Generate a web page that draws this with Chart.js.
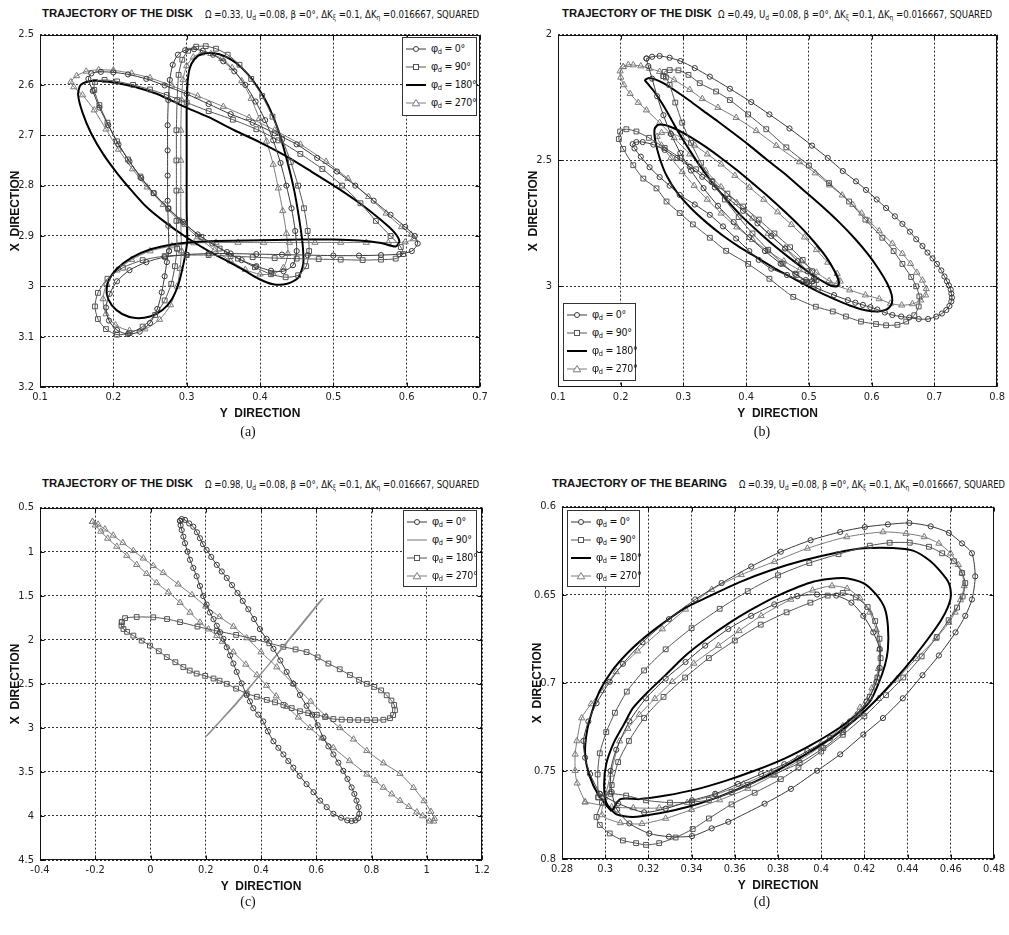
<!DOCTYPE html>
<html>
<head>
<meta charset="utf-8">
<script src="https://cdn.jsdelivr.net/npm/chart.js@4.4.1/dist/chart.umd.min.js"></script>
<style>
  body { margin:0; background:#fff; width:1009px; height:935px; position:relative; overflow:hidden; font-family:"Liberation Sans", Arial, sans-serif; color:#111; }
  canvas { position:absolute; }
  .ttl { position:absolute; white-space:nowrap; display:inline-block; transform-origin:0 50%; line-height:14px; }
  .ttl.main { font-weight:bold; font-size:11.5px; }
  .ttl.params { font-family:"Liberation Sans Narrow","DejaVu Sans Condensed",sans-serif; font-size:10.5px; }
  sub { font-size:70%; vertical-align:-2px; line-height:0; }
  .legend { position:absolute; border:1px solid #333; background:#fff; box-sizing:border-box; }
  .legend .row { position:absolute; left:3px; height:12px; white-space:nowrap; font-family:"Liberation Sans Narrow","DejaVu Sans Condensed",sans-serif; font-size:10.5px; letter-spacing:-0.3px; line-height:12px; color:#111; }
  .legend svg { position:absolute; left:0; top:1px; }
  .legend span { position:absolute; left:25px; top:-1px; }
  .legend .phi { position:static; font-family:"Liberation Sans", Arial, sans-serif; font-size:11px; }
  .caption { position:absolute; font-family:"Liberation Serif","Times New Roman",serif; font-size:14px; transform:translate(-50%,-50%); }
</style>
</head>
<body>
<script>
// tick labels
const ticksAx = [0.1, 0.2, 0.3, 0.4, 0.5, 0.6, 0.7];
const ticksAy = [2.5, 2.6, 2.7, 2.8, 2.9, 3, 3.1, 3.2];
const ticksBx = [0.1, 0.2, 0.3, 0.4, 0.5, 0.6, 0.7, 0.8];
const ticksBy = [2, 2.5, 3];
const ticksCx = [-0.4, -0.2, 0, 0.2, 0.4, 0.6, 0.8, 1, 1.2];
const ticksCy = [0.5, 1, 1.5, 2, 2.5, 3, 3.5, 4, 4.5];
const ticksDx = [0.28, 0.3, 0.32, 0.34, 0.36, 0.38, 0.4, 0.42, 0.44, 0.46, 0.48];
const ticksDy = [0.6, 0.65, 0.7, 0.75, 0.8];

const phaseLabels = ['0°', '90°', '180°', '270°'];
const omegaValues = ['0.33', '0.49', '0.98', '0.39'];

// (a) disk, Omega = 0.33   points are [Y direction, X direction]
const trajA_phi0 = [[0.276,2.93],[0.275,2.88],[0.274,2.83],[0.274,2.78],[0.274,2.73],[0.274,2.68],[0.275,2.63],[0.277,2.59],[0.281,2.56],[0.288,2.54],[0.298,2.531],[0.31,2.529],[0.322,2.532],[0.336,2.54],[0.35,2.553],[0.365,2.573],[0.38,2.6],[0.394,2.633],[0.407,2.67],[0.418,2.71],[0.428,2.755],[0.436,2.8],[0.443,2.845],[0.448,2.89],[0.45,2.93],[0.445,2.958],[0.432,2.97],[0.415,2.969],[0.395,2.96],[0.375,2.948],[0.355,2.932],[0.335,2.915],[0.315,2.897],[0.295,2.872],[0.275,2.845],[0.255,2.815],[0.238,2.785],[0.222,2.752],[0.207,2.718],[0.193,2.68],[0.181,2.645],[0.172,2.612],[0.166,2.588],[0.17,2.577],[0.183,2.574],[0.2,2.575],[0.22,2.579],[0.245,2.588],[0.27,2.601],[0.3,2.618],[0.33,2.638],[0.36,2.658],[0.39,2.675],[0.42,2.696],[0.45,2.718],[0.478,2.745],[0.505,2.772],[0.53,2.8],[0.555,2.83],[0.578,2.858],[0.598,2.882],[0.611,2.9],[0.615,2.915],[0.607,2.93],[0.59,2.936],[0.565,2.938],[0.535,2.939],[0.5,2.939],[0.465,2.938],[0.43,2.937],[0.395,2.936],[0.36,2.935],[0.33,2.935],[0.3,2.937],[0.27,2.942],[0.245,2.952],[0.222,2.968],[0.205,2.99],[0.195,3.015],[0.19,3.042],[0.194,3.068],[0.205,3.087],[0.22,3.095],[0.236,3.09],[0.25,3.073],[0.26,3.045],[0.266,3.012],[0.27,2.98],[0.273,2.952],[0.276,2.93]];
const trajA_phi90 = [[0.287,2.925],[0.286,2.87],[0.286,2.81],[0.286,2.75],[0.286,2.69],[0.287,2.63],[0.289,2.58],[0.294,2.55],[0.302,2.532],[0.313,2.524],[0.326,2.523],[0.34,2.528],[0.356,2.54],[0.372,2.56],[0.388,2.588],[0.403,2.622],[0.417,2.663],[0.43,2.707],[0.442,2.753],[0.452,2.8],[0.46,2.845],[0.465,2.89],[0.467,2.93],[0.463,2.96],[0.452,2.978],[0.435,2.982],[0.415,2.976],[0.393,2.962],[0.37,2.945],[0.345,2.925],[0.32,2.902],[0.297,2.876],[0.275,2.846],[0.255,2.815],[0.237,2.782],[0.22,2.748],[0.205,2.712],[0.192,2.675],[0.181,2.64],[0.174,2.61],[0.175,2.594],[0.188,2.59],[0.205,2.593],[0.227,2.6],[0.25,2.609],[0.273,2.62],[0.3,2.635],[0.33,2.652],[0.363,2.669],[0.395,2.688],[0.425,2.71],[0.455,2.737],[0.485,2.767],[0.512,2.8],[0.537,2.835],[0.558,2.87],[0.578,2.9],[0.592,2.922],[0.595,2.936],[0.585,2.945],[0.565,2.947],[0.54,2.948],[0.51,2.947],[0.48,2.946],[0.45,2.945],[0.42,2.944],[0.39,2.942],[0.36,2.94],[0.33,2.938],[0.3,2.938],[0.27,2.94],[0.24,2.948],[0.213,2.963],[0.192,2.985],[0.179,3.013],[0.175,3.04],[0.179,3.065],[0.19,3.085],[0.205,3.096],[0.222,3.093],[0.24,3.08],[0.257,3.057],[0.27,3.028],[0.279,2.995],[0.284,2.96],[0.287,2.925]];
const trajA_phi180 = [[0.301,2.91],[0.3,2.85],[0.3,2.78],[0.3,2.71],[0.3,2.65],[0.301,2.6],[0.304,2.568],[0.311,2.548],[0.322,2.538],[0.337,2.537],[0.352,2.543],[0.367,2.556],[0.383,2.578],[0.398,2.607],[0.412,2.643],[0.425,2.69],[0.436,2.745],[0.446,2.805],[0.453,2.862],[0.458,2.915],[0.459,2.955],[0.452,2.983],[0.437,2.995],[0.418,2.996],[0.398,2.985],[0.378,2.968],[0.357,2.951],[0.33,2.93],[0.3,2.903],[0.27,2.872],[0.245,2.842],[0.225,2.81],[0.205,2.775],[0.186,2.737],[0.17,2.697],[0.158,2.655],[0.152,2.62],[0.155,2.601],[0.166,2.593],[0.183,2.592],[0.205,2.596],[0.23,2.604],[0.26,2.618],[0.295,2.642],[0.33,2.664],[0.365,2.69],[0.4,2.714],[0.435,2.741],[0.47,2.772],[0.505,2.804],[0.537,2.836],[0.563,2.866],[0.582,2.891],[0.59,2.91],[0.585,2.921],[0.565,2.914],[0.535,2.909],[0.5,2.907],[0.46,2.907],[0.42,2.908],[0.38,2.909],[0.34,2.91],[0.31,2.912],[0.28,2.917],[0.25,2.927],[0.225,2.943],[0.205,2.965],[0.193,2.99],[0.191,3.015],[0.198,3.038],[0.212,3.055],[0.23,3.063],[0.25,3.06],[0.267,3.047],[0.28,3.025],[0.289,2.995],[0.295,2.96],[0.299,2.93],[0.301,2.91]];
const trajA_phi270 = [[0.293,2.93],[0.292,2.87],[0.292,2.81],[0.292,2.75],[0.292,2.69],[0.293,2.63],[0.295,2.59],[0.3,2.562],[0.309,2.545],[0.32,2.537],[0.333,2.538],[0.348,2.548],[0.362,2.566],[0.375,2.592],[0.388,2.627],[0.399,2.667],[0.409,2.712],[0.418,2.758],[0.425,2.805],[0.431,2.85],[0.436,2.895],[0.438,2.935],[0.432,2.963],[0.418,2.975],[0.4,2.976],[0.38,2.967],[0.36,2.95],[0.338,2.928],[0.315,2.902],[0.29,2.87],[0.268,2.838],[0.246,2.803],[0.226,2.767],[0.207,2.728],[0.19,2.688],[0.174,2.65],[0.158,2.62],[0.146,2.604],[0.142,2.594],[0.15,2.582],[0.163,2.573],[0.18,2.57],[0.2,2.571],[0.225,2.577],[0.25,2.586],[0.28,2.602],[0.315,2.622],[0.35,2.643],[0.385,2.665],[0.42,2.69],[0.455,2.718],[0.49,2.752],[0.52,2.786],[0.548,2.822],[0.572,2.855],[0.593,2.882],[0.606,2.897],[0.609,2.906],[0.598,2.912],[0.575,2.913],[0.545,2.913],[0.51,2.913],[0.475,2.913],[0.44,2.913],[0.405,2.913],[0.37,2.913],[0.34,2.913],[0.31,2.914],[0.28,2.92],[0.25,2.93],[0.225,2.947],[0.205,2.968],[0.191,2.995],[0.186,3.025],[0.19,3.055],[0.203,3.077],[0.222,3.088],[0.243,3.085],[0.263,3.066],[0.278,3.037],[0.287,3.0],[0.291,2.965],[0.293,2.93]];

// (b) disk, Omega = 0.49
const trajB_phi0 = [[0.241,2.095],[0.25,2.088],[0.262,2.085],[0.278,2.092],[0.295,2.105],[0.318,2.133],[0.342,2.167],[0.374,2.215],[0.408,2.268],[0.437,2.317],[0.469,2.373],[0.505,2.441],[0.53,2.49],[0.554,2.542],[0.575,2.583],[0.591,2.617],[0.608,2.655],[0.623,2.689],[0.637,2.722],[0.649,2.752],[0.661,2.783],[0.671,2.813],[0.681,2.84],[0.689,2.866],[0.697,2.889],[0.704,2.911],[0.711,2.937],[0.716,2.961],[0.72,2.98],[0.723,2.996],[0.726,3.013],[0.727,3.029],[0.728,3.045],[0.727,3.06],[0.724,3.078],[0.719,3.094],[0.712,3.108],[0.703,3.12],[0.69,3.13],[0.675,3.13],[0.66,3.124],[0.647,3.12],[0.633,3.114],[0.621,3.104],[0.609,3.092],[0.598,3.083],[0.586,3.074],[0.574,3.065],[0.562,3.055],[0.54,3.035],[0.515,3.01],[0.49,2.983],[0.465,2.955],[0.44,2.93],[0.42,2.895],[0.405,2.86],[0.384,2.81],[0.363,2.762],[0.342,2.716],[0.318,2.675],[0.294,2.637],[0.278,2.6],[0.262,2.566],[0.246,2.527],[0.232,2.485],[0.222,2.452],[0.219,2.435],[0.225,2.427],[0.235,2.427],[0.252,2.437],[0.27,2.458],[0.29,2.49],[0.31,2.525],[0.33,2.565],[0.35,2.607],[0.372,2.652],[0.395,2.7],[0.418,2.75],[0.44,2.8],[0.462,2.85],[0.482,2.9],[0.498,2.94],[0.508,2.968],[0.505,2.98],[0.495,2.975],[0.478,2.95],[0.455,2.91],[0.43,2.86],[0.405,2.805],[0.38,2.745],[0.355,2.68],[0.332,2.61],[0.312,2.54],[0.295,2.47],[0.28,2.395],[0.268,2.32],[0.258,2.245],[0.25,2.175],[0.244,2.125],[0.241,2.095]];
const trajB_phi90 = [[0.268,2.165],[0.27,2.148],[0.278,2.141],[0.292,2.142],[0.308,2.16],[0.326,2.193],[0.352,2.226],[0.374,2.26],[0.403,2.317],[0.432,2.376],[0.464,2.448],[0.5,2.52],[0.532,2.59],[0.564,2.663],[0.59,2.735],[0.617,2.807],[0.635,2.86],[0.649,2.911],[0.663,2.963],[0.671,3.0],[0.676,3.04],[0.675,3.08],[0.668,3.115],[0.655,3.14],[0.641,3.153],[0.623,3.155],[0.607,3.15],[0.583,3.14],[0.559,3.12],[0.538,3.1],[0.511,3.081],[0.475,3.042],[0.437,2.97],[0.403,2.911],[0.368,2.859],[0.342,2.807],[0.315,2.754],[0.294,2.709],[0.273,2.663],[0.257,2.611],[0.236,2.572],[0.22,2.519],[0.204,2.454],[0.197,2.415],[0.199,2.385],[0.209,2.376],[0.225,2.385],[0.245,2.41],[0.27,2.45],[0.295,2.49],[0.32,2.535],[0.345,2.582],[0.37,2.632],[0.395,2.683],[0.42,2.735],[0.445,2.79],[0.47,2.845],[0.49,2.895],[0.505,2.94],[0.512,2.975],[0.508,2.99],[0.497,2.982],[0.48,2.955],[0.458,2.91],[0.435,2.855],[0.41,2.79],[0.388,2.725],[0.366,2.655],[0.346,2.585],[0.328,2.51],[0.312,2.43],[0.298,2.35],[0.287,2.27],[0.278,2.2],[0.272,2.17],[0.268,2.165]];
const trajB_phi180 = [[0.238,2.18],[0.245,2.172],[0.255,2.178],[0.27,2.196],[0.29,2.228],[0.31,2.263],[0.33,2.3],[0.355,2.345],[0.38,2.392],[0.405,2.44],[0.432,2.495],[0.46,2.55],[0.49,2.615],[0.52,2.68],[0.548,2.745],[0.573,2.81],[0.595,2.875],[0.612,2.935],[0.625,2.99],[0.632,3.035],[0.632,3.07],[0.624,3.092],[0.61,3.1],[0.59,3.095],[0.565,3.076],[0.538,3.048],[0.51,3.015],[0.48,2.975],[0.45,2.935],[0.42,2.89],[0.39,2.845],[0.362,2.797],[0.336,2.745],[0.312,2.69],[0.29,2.628],[0.273,2.56],[0.262,2.49],[0.255,2.42],[0.254,2.375],[0.26,2.358],[0.272,2.36],[0.29,2.378],[0.312,2.408],[0.335,2.445],[0.36,2.49],[0.385,2.538],[0.41,2.59],[0.435,2.643],[0.46,2.7],[0.485,2.76],[0.507,2.82],[0.527,2.882],[0.541,2.94],[0.548,2.985],[0.545,3.0],[0.533,2.995],[0.515,2.97],[0.492,2.93],[0.468,2.885],[0.443,2.835],[0.418,2.78],[0.393,2.722],[0.37,2.66],[0.348,2.595],[0.328,2.528],[0.31,2.46],[0.293,2.392],[0.278,2.325],[0.265,2.27],[0.252,2.222],[0.243,2.195],[0.238,2.18]];
const trajB_phi270 = [[0.204,2.128],[0.212,2.12],[0.22,2.121],[0.232,2.125],[0.246,2.135],[0.262,2.147],[0.285,2.18],[0.31,2.219],[0.33,2.255],[0.355,2.29],[0.384,2.33],[0.416,2.382],[0.448,2.441],[0.485,2.506],[0.51,2.55],[0.533,2.598],[0.553,2.638],[0.57,2.676],[0.584,2.71],[0.596,2.741],[0.612,2.78],[0.633,2.83],[0.649,2.87],[0.662,2.91],[0.672,2.945],[0.681,2.976],[0.687,3.01],[0.686,3.035],[0.678,3.055],[0.665,3.07],[0.648,3.075],[0.63,3.068],[0.612,3.05],[0.59,3.035],[0.565,3.015],[0.535,2.99],[0.51,2.965],[0.485,2.935],[0.46,2.9],[0.435,2.86],[0.41,2.815],[0.385,2.765],[0.36,2.71],[0.338,2.655],[0.317,2.6],[0.298,2.545],[0.28,2.49],[0.265,2.44],[0.258,2.405],[0.265,2.39],[0.28,2.392],[0.298,2.41],[0.318,2.44],[0.338,2.475],[0.36,2.515],[0.382,2.56],[0.405,2.607],[0.428,2.655],[0.45,2.705],[0.472,2.755],[0.493,2.805],[0.512,2.855],[0.53,2.905],[0.545,2.95],[0.55,2.98],[0.545,2.99],[0.532,2.978],[0.512,2.945],[0.488,2.9],[0.462,2.848],[0.435,2.79],[0.41,2.73],[0.385,2.668],[0.36,2.605],[0.335,2.54],[0.31,2.475],[0.285,2.41],[0.262,2.35],[0.241,2.3],[0.228,2.27],[0.215,2.235],[0.205,2.2],[0.2,2.17],[0.199,2.145],[0.204,2.128]];

// (c) disk, Omega = 0.98
const trajC_phi0 = [[0.107,0.65],[0.113,0.63],[0.125,0.64],[0.14,0.68],[0.155,0.717],[0.168,0.78],[0.179,0.848],[0.19,0.915],[0.203,0.98],[0.22,1.06],[0.24,1.15],[0.258,1.225],[0.276,1.298],[0.295,1.38],[0.315,1.47],[0.334,1.56],[0.354,1.654],[0.375,1.765],[0.396,1.879],[0.42,1.99],[0.445,2.103],[0.47,2.235],[0.493,2.365],[0.517,2.5],[0.541,2.627],[0.565,2.75],[0.585,2.85],[0.605,2.97],[0.626,3.115],[0.644,3.21],[0.662,3.302],[0.68,3.395],[0.698,3.489],[0.713,3.58],[0.728,3.677],[0.738,3.75],[0.746,3.826],[0.753,3.9],[0.756,3.976],[0.752,4.025],[0.742,4.05],[0.728,4.058],[0.712,4.05],[0.69,4.02],[0.662,3.976],[0.638,3.9],[0.614,3.826],[0.59,3.73],[0.565,3.639],[0.54,3.545],[0.517,3.452],[0.499,3.377],[0.481,3.302],[0.463,3.227],[0.445,3.152],[0.425,3.04],[0.408,2.927],[0.39,2.85],[0.372,2.777],[0.36,2.7],[0.348,2.627],[0.33,2.495],[0.312,2.365],[0.3,2.27],[0.288,2.178],[0.276,2.085],[0.264,1.99],[0.252,1.915],[0.24,1.841],[0.228,1.766],[0.215,1.691],[0.203,1.6],[0.191,1.504],[0.179,1.39],[0.167,1.279],[0.155,1.185],[0.143,1.092],[0.134,1.0],[0.125,0.904],[0.119,0.83],[0.113,0.755],[0.109,0.7],[0.107,0.65]];
const trajC_phi90 = [[0.2,3.1],[0.25,2.93],[0.3,2.755],[0.35,2.57],[0.4,2.385],[0.45,2.2],[0.5,2.01],[0.55,1.82],[0.6,1.625],[0.625,1.53],[0.615,1.56],[0.56,1.77],[0.51,1.96],[0.46,2.155],[0.41,2.35],[0.36,2.54],[0.31,2.73],[0.26,2.9],[0.21,3.07],[0.2,3.1]];
const trajC_phi180 = [[-0.104,1.8],[-0.092,1.755],[-0.05,1.742],[0.01,1.745],[0.06,1.765],[0.107,1.8],[0.17,1.85],[0.24,1.9],[0.31,1.945],[0.372,1.99],[0.43,2.04],[0.481,2.08],[0.525,2.11],[0.565,2.14],[0.605,2.2],[0.644,2.27],[0.685,2.335],[0.722,2.4],[0.755,2.455],[0.783,2.5],[0.81,2.535],[0.835,2.575],[0.855,2.63],[0.872,2.69],[0.882,2.74],[0.885,2.8],[0.878,2.855],[0.867,2.89],[0.843,2.908],[0.813,2.912],[0.783,2.912],[0.752,2.911],[0.722,2.91],[0.692,2.906],[0.662,2.9],[0.632,2.877],[0.602,2.852],[0.571,2.833],[0.541,2.812],[0.511,2.776],[0.481,2.74],[0.451,2.71],[0.421,2.683],[0.385,2.647],[0.348,2.61],[0.31,2.555],[0.276,2.5],[0.25,2.465],[0.228,2.44],[0.198,2.41],[0.167,2.384],[0.142,2.35],[0.119,2.31],[0.09,2.255],[0.059,2.197],[0.03,2.13],[-0.002,2.066],[-0.032,2.01],[-0.062,1.953],[-0.085,1.91],[-0.098,1.878],[-0.105,1.84],[-0.104,1.8]];
const trajC_phi270 = [[-0.21,0.66],[-0.19,0.69],[-0.165,0.745],[-0.135,0.815],[-0.1,0.9],[-0.062,0.99],[-0.026,1.075],[0.01,1.16],[0.046,1.24],[0.1,1.37],[0.15,1.49],[0.2,1.62],[0.25,1.74],[0.3,1.85],[0.348,1.98],[0.4,2.14],[0.457,2.31],[0.517,2.5],[0.58,2.7],[0.636,2.87],[0.686,3.0],[0.735,3.13],[0.783,3.26],[0.843,3.4],[0.903,3.52],[0.952,3.68],[0.99,3.83],[1.015,3.95],[1.028,4.03],[1.025,4.06],[1.01,4.06],[0.985,4.0],[0.964,3.957],[0.935,3.895],[0.903,3.826],[0.873,3.752],[0.843,3.677],[0.813,3.6],[0.783,3.527],[0.72,3.375],[0.662,3.227],[0.62,3.115],[0.577,3.0],[0.535,2.88],[0.493,2.76],[0.455,2.64],[0.42,2.52],[0.385,2.4],[0.345,2.28],[0.3,2.14],[0.26,2.02],[0.24,1.953],[0.21,1.88],[0.179,1.803],[0.143,1.69],[0.107,1.579],[0.065,1.46],[0.022,1.354],[-0.014,1.25],[-0.05,1.148],[-0.086,1.045],[-0.122,0.942],[-0.155,0.85],[-0.18,0.77],[-0.2,0.7],[-0.21,0.66]];

// (d) bearing, Omega = 0.39
const trajD_phi0 = [[0.2975,0.763],[0.293,0.7518],[0.2907,0.7425],[0.2899,0.733],[0.2922,0.7219],[0.296,0.7116],[0.3021,0.6994],[0.3082,0.6892],[0.3173,0.677],[0.3295,0.6639],[0.3417,0.6527],[0.3539,0.6434],[0.3676,0.634],[0.3813,0.6256],[0.3951,0.6191],[0.4088,0.6144],[0.4202,0.6116],[0.4309,0.6101],[0.4408,0.6093],[0.4507,0.6112],[0.4591,0.6149],[0.4652,0.6209],[0.4698,0.6265],[0.4713,0.6396],[0.4698,0.6527],[0.4667,0.662],[0.4622,0.6714],[0.4545,0.6845],[0.4469,0.6957],[0.4378,0.7088],[0.4286,0.72],[0.4195,0.7294],[0.4088,0.7406],[0.3981,0.7499],[0.386,0.7602],[0.3738,0.7686],[0.357,0.7789],[0.3493,0.7826],[0.3402,0.787],[0.3295,0.7873],[0.3204,0.7855],[0.3112,0.7798],[0.3055,0.772],[0.303,0.762],[0.3025,0.75],[0.3051,0.738],[0.3112,0.7219],[0.3189,0.7088],[0.328,0.6976],[0.3372,0.6882],[0.3463,0.6789],[0.357,0.6695],[0.3676,0.662],[0.3783,0.6555],[0.389,0.6508],[0.3981,0.6499],[0.407,0.6505],[0.414,0.6545],[0.4195,0.662],[0.4241,0.6714],[0.4271,0.6808],[0.4271,0.6915],[0.4256,0.6994],[0.421,0.7107],[0.4133,0.7219],[0.4042,0.7312],[0.3936,0.7387],[0.3829,0.7462],[0.3722,0.7518],[0.3615,0.7574],[0.3509,0.763],[0.3402,0.7667],[0.328,0.7714],[0.318,0.7735],[0.306,0.7685],[0.2975,0.763]];
const trajD_phi90 = [[0.2968,0.765],[0.2965,0.752],[0.2975,0.74],[0.3005,0.728],[0.3045,0.717],[0.31,0.705],[0.318,0.693],[0.328,0.681],[0.34,0.669],[0.353,0.658],[0.366,0.648],[0.38,0.639],[0.3945,0.632],[0.408,0.627],[0.4225,0.6222],[0.4317,0.6205],[0.441,0.6205],[0.4499,0.6228],[0.456,0.6265],[0.4615,0.631],[0.4652,0.6377],[0.4667,0.6434],[0.4655,0.651],[0.4629,0.6573],[0.459,0.6645],[0.4535,0.674],[0.4465,0.685],[0.438,0.697],[0.43,0.707],[0.42,0.719],[0.41,0.7295],[0.4,0.739],[0.3895,0.748],[0.3813,0.7547],[0.3692,0.7624],[0.3585,0.769],[0.348,0.777],[0.3405,0.783],[0.3326,0.7878],[0.325,0.791],[0.3189,0.792],[0.3143,0.791],[0.3082,0.7895],[0.3021,0.7855],[0.2975,0.7807],[0.296,0.7761],[0.2985,0.768],[0.303,0.758],[0.306,0.745],[0.311,0.733],[0.318,0.72],[0.327,0.708],[0.337,0.697],[0.348,0.686],[0.36,0.676],[0.372,0.667],[0.384,0.66],[0.395,0.6545],[0.403,0.6505],[0.41,0.649],[0.416,0.6515],[0.4215,0.657],[0.425,0.665],[0.427,0.675],[0.4275,0.686],[0.426,0.697],[0.4225,0.708],[0.417,0.718],[0.41,0.728],[0.401,0.737],[0.39,0.7455],[0.378,0.752],[0.3661,0.758],[0.3585,0.762],[0.348,0.7665],[0.3402,0.7677],[0.33,0.768],[0.3189,0.7667],[0.3097,0.764],[0.3025,0.763],[0.2968,0.765]];
const trajD_phi180 = [[0.303,0.773],[0.297,0.764],[0.2925,0.752],[0.2907,0.74],[0.2915,0.728],[0.294,0.716],[0.2975,0.7045],[0.303,0.6935],[0.31,0.6835],[0.318,0.6745],[0.327,0.666],[0.337,0.6575],[0.348,0.651],[0.362,0.643],[0.377,0.636],[0.392,0.6305],[0.407,0.6262],[0.4195,0.6237],[0.433,0.6235],[0.4425,0.625],[0.4499,0.6303],[0.455,0.6365],[0.4591,0.6434],[0.46,0.651],[0.4585,0.6575],[0.4555,0.6645],[0.4495,0.675],[0.4423,0.6864],[0.435,0.697],[0.426,0.709],[0.416,0.7205],[0.405,0.731],[0.393,0.7405],[0.38,0.7495],[0.366,0.758],[0.352,0.765],[0.338,0.7705],[0.325,0.774],[0.3128,0.7761],[0.305,0.7745],[0.3005,0.768],[0.2995,0.758],[0.3005,0.746],[0.304,0.734],[0.3085,0.724],[0.3128,0.7144],[0.3195,0.7055],[0.328,0.6955],[0.3372,0.6845],[0.347,0.675],[0.3575,0.666],[0.3676,0.6585],[0.38,0.6505],[0.3966,0.6425],[0.4103,0.6405],[0.4195,0.6434],[0.4255,0.65],[0.4295,0.658],[0.4309,0.668],[0.4309,0.6808],[0.4295,0.69],[0.4265,0.7005],[0.4225,0.7107],[0.415,0.7195],[0.406,0.7275],[0.395,0.7355],[0.383,0.743],[0.37,0.7495],[0.356,0.7555],[0.342,0.7605],[0.328,0.764],[0.316,0.766],[0.307,0.766],[0.303,0.773]];
const trajD_phi270 = [[0.2907,0.7677],[0.287,0.757],[0.2861,0.7499],[0.2861,0.7406],[0.2869,0.733],[0.2891,0.72],[0.2935,0.712],[0.2983,0.7045],[0.3051,0.6938],[0.315,0.682],[0.3265,0.6695],[0.3372,0.6583],[0.3493,0.6471],[0.363,0.6387],[0.3783,0.6312],[0.3936,0.6237],[0.4118,0.6172],[0.4286,0.6144],[0.4393,0.6153],[0.4477,0.6172],[0.4545,0.6209],[0.4599,0.6265],[0.4635,0.633],[0.4652,0.6377],[0.4662,0.645],[0.4645,0.653],[0.462,0.66],[0.4591,0.6658],[0.453,0.675],[0.4439,0.6864],[0.435,0.698],[0.4265,0.709],[0.4195,0.7175],[0.41,0.727],[0.4,0.736],[0.39,0.744],[0.378,0.7525],[0.366,0.76],[0.353,0.7665],[0.34,0.772],[0.328,0.777],[0.317,0.78],[0.307,0.7795],[0.2985,0.775],[0.3,0.765],[0.3025,0.752],[0.3067,0.7331],[0.3105,0.726],[0.3158,0.7181],[0.323,0.709],[0.331,0.6994],[0.341,0.689],[0.3524,0.6789],[0.362,0.6705],[0.3722,0.662],[0.3859,0.6527],[0.396,0.6475],[0.405,0.645],[0.412,0.6465],[0.418,0.652],[0.4225,0.66],[0.4255,0.67],[0.427,0.681],[0.4265,0.692],[0.4235,0.703],[0.418,0.714],[0.41,0.7245],[0.4,0.7345],[0.389,0.743],[0.377,0.7505],[0.364,0.7575],[0.351,0.7635],[0.338,0.768],[0.325,0.771],[0.313,0.771],[0.303,0.7705],[0.2907,0.7677]];

// line / marker looks
const looks = {
  circle:   { color: '#3a3a3a', marker: 'circle',   radius: 2.6, width: 1 },
  square:   { color: '#555',    marker: 'rect',     radius: 3.4, width: 1 },
  solid:    { color: '#000',    marker: false,      radius: 0,   width: 2 },
  triangle: { color: '#7c7c7c', marker: 'triangle', radius: 3.6, width: 1 },
  plain:    { color: '#8c8c8c', marker: false,      radius: 0,   width: 1.2 }
};

const panels = [
  { left: 0, top: 22, width: 495, padRight: 15, x: [0.1, 0.7], y: [2.5, 3.2], xTicks: ticksAx, yTicks: ticksAy,
    series: [trajA_phi0, trajA_phi90, trajA_phi180, trajA_phi270], looks: ['circle', 'square', 'solid', 'triangle'],
    legend: [402, 37, 75, 79], head: 'TRAJECTORY OF THE DISK', headPos: [42, 151, 205, 274, 6], omega: omegaValues[0], caption: ['(a)', 248, 432] },
  { left: 518, top: 22, width: 491, padRight: 11, x: [0.1, 0.8], y: [2, 3.4], xTicks: ticksBx, yTicks: ticksBy,
    series: [trajB_phi0, trajB_phi90, trajB_phi180, trajB_phi270], looks: ['circle', 'square', 'solid', 'triangle'],
    legend: [563, 303, 73, 78], head: 'TRAJECTORY OF THE DISK', headPos: [562, 150, 718, 274, 6], omega: omegaValues[1], caption: ['(b)', 762, 432] },
  { left: 0, top: 495, width: 495, padRight: 13, x: [-0.4, 1.2], y: [0.5, 4.5], xTicks: ticksCx, yTicks: ticksCy,
    series: [trajC_phi0, trajC_phi90, trajC_phi180, trajC_phi270], looks: ['circle', 'plain', 'square', 'triangle'],
    legend: [403, 510, 74, 77], head: 'TRAJECTORY OF THE DISK', headPos: [42, 151, 205, 274, 476], omega: omegaValues[2], caption: ['(c)', 248, 902] },
  { left: 522, top: 494, width: 487, padRight: 10, x: [0.28, 0.48], y: [0.6, 0.8], xTicks: ticksDx, yTicks: ticksDy,
    series: [trajD_phi0, trajD_phi90, trajD_phi180, trajD_phi270], looks: ['circle', 'square', 'solid', 'triangle'],
    legend: [567, 510, 73, 77], head: 'TRAJECTORY OF THE BEARING', headPos: [552, 175, 739, 266, 476], omega: omegaValues[3], caption: ['(d)', 762, 902] }
];

const tickFont = { family: '"Liberation Sans Narrow", "DejaVu Sans Condensed", sans-serif', size: 11 };
const axisTitleFont = { family: '"Liberation Sans", Arial, sans-serif', size: 12, weight: 'bold' };

// frame box plus MATLAB style inward tick marks
const framePlugin = {
  id: 'frame',
  afterDraw(chart) {
    const { ctx, chartArea: a, scales } = chart;
    const l = Math.round(a.left) + 0.5, t = Math.round(a.top) + 0.5;
    const r = Math.round(a.right) - 0.5, b = Math.round(a.bottom) - 0.5;
    ctx.save();
    ctx.strokeStyle = '#111';
    ctx.lineWidth = 1;
    ctx.strokeRect(l, t, r - l, b - t);
    ctx.beginPath();
    scales.x.ticks.forEach(tk => {
      const px = Math.round(scales.x.getPixelForValue(tk.value)) + 0.5;
      ctx.moveTo(px, b); ctx.lineTo(px, b - 4);
      ctx.moveTo(px, t); ctx.lineTo(px, t + 4);
    });
    scales.y.ticks.forEach(tk => {
      const py = Math.round(scales.y.getPixelForValue(tk.value)) + 0.5;
      ctx.moveTo(l, py); ctx.lineTo(l + 4, py);
      ctx.moveTo(r, py); ctx.lineTo(r - 4, py);
    });
    ctx.stroke();
    ctx.restore();
  }
};

const fmt = v => String(+(+v).toFixed(3));

function fitWidth(el, w) {
  const actual = el.getBoundingClientRect().width;
  if (actual > 0) el.style.transform = 'scaleX(' + (w / actual) + ')';
}

function legendIcon(kind) {
  const s = looks[kind];
  let mark = '';
  if (kind === 'circle') mark = `<circle cx="10" cy="5" r="2.5" fill="#fff" stroke="${s.color}"/>`;
  if (kind === 'square') mark = `<rect x="7.5" y="2.5" width="5" height="5" fill="#fff" stroke="${s.color}"/>`;
  if (kind === 'triangle') mark = `<polygon points="10,1.5 13.8,7.8 6.2,7.8" fill="#fff" stroke="${s.color}"/>`;
  return `<svg width="20" height="10"><line x1="0" y1="5" x2="20" y2="5" stroke="${s.color}" stroke-width="${s.width}"/>${mark}</svg>`;
}

panels.forEach(p => {
  const canvas = document.createElement('canvas');
  canvas.width = p.width;
  canvas.height = 405;
  canvas.style.left = p.left + 'px';
  canvas.style.top = p.top + 'px';
  document.body.appendChild(canvas);

  const datasets = p.series.map((pts, i) => {
    const s = looks[p.looks[i]];
    return {
      label: 'φd = ' + phaseLabels[i],
      data: pts.map(([x, y]) => ({ x, y })),
      showLine: true,
      borderColor: s.color,
      borderWidth: s.width,
      pointStyle: s.marker || 'circle',
      pointRadius: s.radius,
      pointBorderColor: s.color,
      pointBackgroundColor: 'rgba(255,255,255,0)',
      pointBorderWidth: 1,
      tension: 0.25,
      fill: false
    };
  });

  new Chart(canvas, {
    type: 'scatter',
    data: { datasets },
    options: {
      responsive: false,
      animation: false,
      events: [],
      layout: { padding: { top: 9, right: p.padRight, left: 0, bottom: 0 } },
      plugins: { legend: { display: false }, tooltip: { enabled: false } },
      scales: {
        x: {
          type: 'linear', min: p.x[0], max: p.x[1],
          afterBuildTicks: s => { s.ticks = p.xTicks.map(v => ({ value: v })); },
          afterFit: s => { s.height = 40; },
          ticks: { callback: fmt, font: tickFont, color: '#222', padding: 4, maxRotation: 0, autoSkip: false },
          grid: { color: '#333', lineWidth: 1, drawTicks: false },
          border: { display: false, dash: [2, 2] },
          title: { display: true, text: 'Y  DIRECTION', font: axisTitleFont, color: '#111', padding: { top: 0, bottom: 6 } }
        },
        y: {
          type: 'linear', reverse: true, min: p.y[0], max: p.y[1],
          afterBuildTicks: s => { s.ticks = p.yTicks.map(v => ({ value: v })); },
          afterFit: s => { s.width = 40; },
          ticks: { callback: fmt, font: tickFont, color: '#222', padding: 6, autoSkip: false },
          grid: { color: '#333', lineWidth: 1, drawTicks: false },
          border: { display: false, dash: [2, 2] },
          title: { display: true, text: 'X  DIRECTION', font: axisTitleFont, color: '#111', padding: { top: 8, bottom: 0 } }
        }
      }
    },
    plugins: [framePlugin]
  });

  // heading
  const [mainLeft, mainW, parLeft, parW, headTop] = p.headPos;
  const main = document.createElement('div');
  main.className = 'ttl main';
  main.textContent = p.head;
  main.style.left = mainLeft + 'px';
  main.style.top = headTop + 'px';
  document.body.appendChild(main);
  fitWidth(main, mainW);

  const par = document.createElement('div');
  par.className = 'ttl params';
  par.innerHTML = `Ω =${p.omega}, U<sub>d</sub> =0.08, β =0°, ΔK<sub>ξ</sub> =0.1, ΔK<sub>η</sub> =0.016667, SQUARED`;
  par.style.left = parLeft + 'px';
  par.style.top = (headTop + 1) + 'px';
  document.body.appendChild(par);
  fitWidth(par, parW);

  // legend box
  const [lx, ly, lw, lh] = p.legend;
  const box = document.createElement('div');
  box.className = 'legend';
  Object.assign(box.style, { left: lx + 'px', top: ly + 'px', width: lw + 'px', height: lh + 'px' });
  p.looks.forEach((kind, i) => {
    const row = document.createElement('div');
    row.className = 'row';
    row.style.top = (4.5 + i * 18) + 'px';
    row.innerHTML = legendIcon(kind) + `<span><b class="phi" style="font-weight:normal">φ</b><sub>d</sub> = ${phaseLabels[i]}</span>`;
    box.appendChild(row);
  });
  document.body.appendChild(box);

  // caption
  const cap = document.createElement('div');
  cap.className = 'caption';
  cap.textContent = p.caption[0];
  cap.style.left = p.caption[1] + 'px';
  cap.style.top = p.caption[2] + 'px';
  document.body.appendChild(cap);
});
</script>
</body>
</html>
